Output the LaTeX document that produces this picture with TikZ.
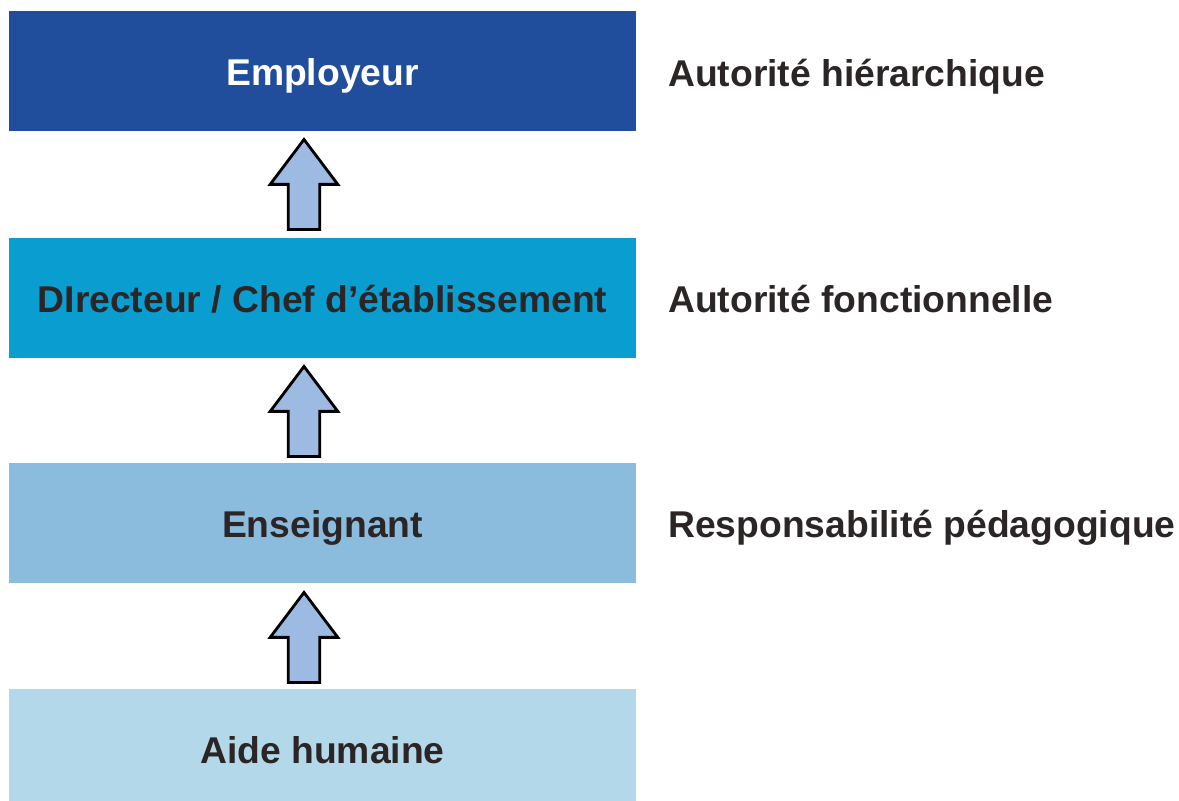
\documentclass[tikz,border=0pt]{standalone}
\usepackage{fontspec}
\setmainfont{Liberation Sans}
\usetikzlibrary{shapes.arrows}
\definecolor{empblue}{HTML}{204E9C}
\definecolor{dirblue}{HTML}{0A9DD0}
\definecolor{ensblue}{HTML}{8BBCDD}
\definecolor{aideblue}{HTML}{B3D8EA}
\definecolor{arrowfill}{HTML}{9DBAE2}
\definecolor{textdark}{HTML}{2B2526}
\tikzset{
  levelbox/.style={rectangle,minimum width=15.675cm,minimum height=3cm,inner sep=0pt,
    font=\fontsize{26.5}{30}\selectfont\bfseries,text=textdark,text height=20pt,text depth=0pt},
  uparrow/.style={single arrow,draw=black,fill=arrowfill,line width=2pt,
    shape border rotate=90,inner sep=0.36cm,minimum height=2.25cm,
    single arrow head extend=0.45cm,single arrow tip angle=74},
  sidelabel/.style={anchor=west,inner sep=0pt,font=\fontsize{26.5}{30}\selectfont\bfseries,
    text=textdark,text height=20pt,text depth=0pt}
}
\begin{document}
\begin{tikzpicture}[x=0.025cm,y=-0.025cm]
    \useasboundingbox (0,0) rectangle (1179,801);
    \node[levelbox,fill=empblue,text=white] (emp) at (322.5,71) {Employeur};
    \node[levelbox,fill=dirblue] (dir) at (322.5,298) {DIrecteur / Chef d’établissement};
    \node[levelbox,fill=ensblue] (ens) at (322.5,523) {Enseignant};
    \node[levelbox,fill=aideblue] (aide) at (322.5,749) {Aide humaine};
    \node[uparrow] (up1) at (304,195) {};
    \node[uparrow] (up2) at (304,422) {};
    \node[uparrow] (up3) at (304,648) {};
    \node[sidelabel] (hier) at (668,72) {Autorité hiérarchique};
    \node[sidelabel] (fonc) at (668,298) {Autorité fonctionnelle};
    \node[sidelabel] (peda) at (668,523) {Responsabilité pédagogique};
\end{tikzpicture}
\end{document}
